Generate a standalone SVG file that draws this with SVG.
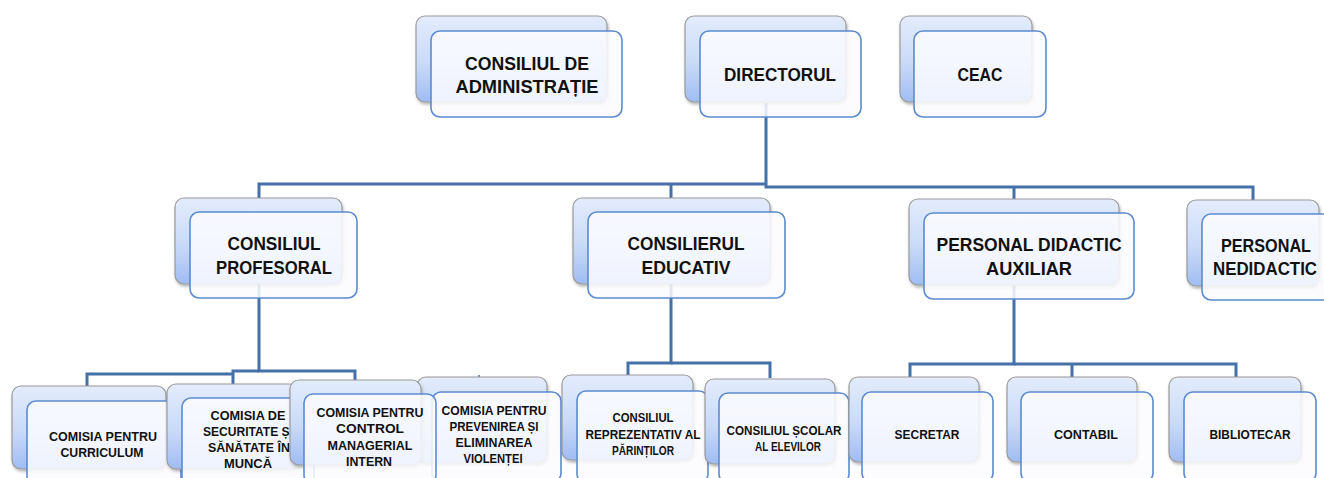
<svg xmlns="http://www.w3.org/2000/svg" width="1324" height="478" viewBox="0 0 1324 478">
<defs>
<linearGradient id="gBack" x1="0" y1="0" x2="0" y2="1">
<stop offset="0" stop-color="#e3ecfc"/>
<stop offset="0.55" stop-color="#c9daf8"/>
<stop offset="1" stop-color="#9fbcf2"/>
</linearGradient>
<filter id="sh" x="-10%" y="-10%" width="130%" height="130%">
<feDropShadow dx="1" dy="2" stdDeviation="1.5" flood-color="#000" flood-opacity="0.3"/>
</filter>
</defs>
<style>
.back{fill:url(#gBack);stroke:#9a9a9a;stroke-width:1.2;filter:url(#sh)}
.front{fill:#fbfcff;fill-opacity:0.86;stroke:#5b8bd0;stroke-width:1.6}
.conn{fill:none;stroke:#4570a8;stroke-width:3;stroke-linejoin:miter}
text{font-family:"Liberation Sans",Arial,sans-serif;font-weight:bold;fill:#111;text-anchor:middle}
.big{font-size:19px}
.sm{font-size:13.5px}
</style>
<rect width="1324" height="478" fill="#ffffff"/>
<g id="connectors">
<path class="conn" d="M766,103 V187 H1253 V200"/>
<path class="conn" d="M766,184 H259 V198"/>
<path class="conn" d="M671,184 V198"/>
<path class="conn" d="M1014,187 V199"/>
<path class="conn" d="M259,284 V371 H355 V380"/>
<path class="conn" d="M259,371 H233 V384"/>
<path class="conn" d="M233,374 H87 V386"/>
<path class="conn" d="M479,375 V378" style="stroke-width:1.5"/>
<path class="conn" d="M671,284 V363 H628 V375"/>
<path class="conn" d="M671,363 H770 V378"/>
<path class="conn" d="M1014,285 V364 H910 V377"/>
<path class="conn" d="M1014,364 H1236 V377"/>
<path class="conn" d="M1072,364 V377"/>
</g>
<g id="n-consiliul-administratie">
<rect class="back" x="416" y="16" width="191" height="86" rx="9"/>
<rect class="front" x="431" y="31" width="191" height="86" rx="9"/>
<text class="big" x="527" y="70" textLength="124" lengthAdjust="spacingAndGlyphs">CONSILIUL DE</text>
<text class="big" x="527" y="93" textLength="143" lengthAdjust="spacingAndGlyphs">ADMINISTRAȚIE</text>
</g>
<g id="n-directorul">
<rect class="back" x="685" y="16" width="161" height="86" rx="9"/>
<rect class="front" x="700" y="31" width="161" height="86" rx="9"/>
<text class="big" x="780" y="81" textLength="112" lengthAdjust="spacingAndGlyphs">DIRECTORUL</text>
</g>
<g id="n-ceac">
<rect class="back" x="900" y="16" width="132" height="86" rx="9"/>
<rect class="front" x="914" y="31" width="132" height="86" rx="9"/>
<text class="big" x="980" y="81" textLength="45" lengthAdjust="spacingAndGlyphs">CEAC</text>
</g>
<g id="n-consiliul-profesoral">
<rect class="back" x="175" y="198" width="167" height="86" rx="9"/>
<rect class="front" x="190" y="212" width="167" height="86" rx="9"/>
<text class="big" x="274" y="250" textLength="93" lengthAdjust="spacingAndGlyphs">CONSILIUL</text>
<text class="big" x="274" y="274" textLength="116" lengthAdjust="spacingAndGlyphs">PROFESORAL</text>
</g>
<g id="n-consilierul-educativ">
<rect class="back" x="573" y="198" width="197" height="86" rx="9"/>
<rect class="front" x="588" y="212" width="197" height="86" rx="9"/>
<text class="big" x="686" y="250" textLength="117" lengthAdjust="spacingAndGlyphs">CONSILIERUL</text>
<text class="big" x="686" y="274" textLength="89" lengthAdjust="spacingAndGlyphs">EDUCATIV</text>
</g>
<g id="n-personal-didactic-auxiliar">
<rect class="back" x="909" y="199" width="210" height="86" rx="9"/>
<rect class="front" x="924" y="213" width="210" height="86" rx="9"/>
<text class="big" x="1029" y="251" textLength="185" lengthAdjust="spacingAndGlyphs">PERSONAL DIDACTIC</text>
<text class="big" x="1029" y="275" textLength="86" lengthAdjust="spacingAndGlyphs">AUXILIAR</text>
</g>
<g id="n-personal-nedidactic">
<rect class="back" x="1187" y="200" width="132" height="86" rx="9"/>
<rect class="front" x="1202" y="214" width="140" height="86" rx="9"/>
<text class="big" x="1266" y="252" textLength="90" lengthAdjust="spacingAndGlyphs">PERSONAL</text>
<text class="big" x="1265" y="275" style="font-size:17.5px" textLength="104" lengthAdjust="spacingAndGlyphs">NEDIDACTIC</text>
</g>
<g id="n-comisia-curriculum">
<rect class="back" x="12" y="386" width="154" height="83" rx="9"/>
<rect class="front" x="27" y="401" width="154" height="90" rx="9"/>
<text class="sm" x="103" y="441" textLength="108" lengthAdjust="spacingAndGlyphs">COMISIA PENTRU</text>
<text class="sm" x="102" y="457" textLength="83" lengthAdjust="spacingAndGlyphs">CURRICULUM</text>
</g>
<g id="n-comisia-securitate">
<rect class="back" x="167" y="384" width="132" height="85" rx="9"/>
<rect class="front" x="182" y="398" width="132" height="90" rx="9"/>
<text class="sm" x="248" y="420" textLength="75" lengthAdjust="spacingAndGlyphs">COMISIA DE</text>
<text class="sm" x="248" y="436" textLength="90" lengthAdjust="spacingAndGlyphs">SECURITATE ȘI</text>
<text class="sm" x="249" y="452" textLength="82" lengthAdjust="spacingAndGlyphs">SĂNĂTATE ÎN</text>
<text class="sm" x="248" y="468" textLength="48" lengthAdjust="spacingAndGlyphs">MUNCĂ</text>
</g>
<g id="n-comisia-violenta">
<rect class="back" x="417" y="377" width="130" height="86" rx="9"/>
<rect class="front" x="432" y="392" width="129" height="90" rx="9"/>
<text class="sm" x="494" y="415" textLength="105" lengthAdjust="spacingAndGlyphs">COMISIA PENTRU</text>
<text class="sm" x="494" y="431" textLength="89" lengthAdjust="spacingAndGlyphs">PREVENIREA ȘI</text>
<text class="sm" x="494" y="447" textLength="77" lengthAdjust="spacingAndGlyphs">ELIMINAREA</text>
<text class="sm" x="493" y="463" textLength="59" lengthAdjust="spacingAndGlyphs">VIOLENȚEI</text>
</g>
<g id="n-comisia-control">
<rect class="back" x="290" y="380" width="131" height="85" rx="9"/>
<rect class="front" x="304" y="394" width="132" height="90" rx="9"/>
<text class="sm" x="370" y="417" textLength="107" lengthAdjust="spacingAndGlyphs">COMISIA PENTRU</text>
<text class="sm" x="370" y="433" textLength="68" lengthAdjust="spacingAndGlyphs">CONTROL</text>
<text class="sm" x="370" y="450" textLength="85" lengthAdjust="spacingAndGlyphs">MANAGERIAL</text>
<text class="sm" x="369" y="466" textLength="46" lengthAdjust="spacingAndGlyphs">INTERN</text>
</g>
<g id="n-consiliul-parintilor">
<rect class="back" x="562" y="375" width="131" height="85" rx="9"/>
<rect class="front" x="577" y="391" width="131" height="92" rx="9"/>
<text class="sm" x="643" y="422" textLength="61" lengthAdjust="spacingAndGlyphs">CONSILIUL</text>
<text class="sm" x="643" y="439" textLength="115" lengthAdjust="spacingAndGlyphs">REPREZENTATIV AL</text>
<text class="sm" x="643" y="455" textLength="62" lengthAdjust="spacingAndGlyphs">PĂRINȚILOR</text>
</g>
<g id="n-consiliul-elevilor">
<rect class="back" x="705" y="379" width="130" height="85" rx="9"/>
<rect class="front" x="719" y="393" width="130" height="90" rx="9"/>
<text class="sm" x="784" y="435" textLength="115" lengthAdjust="spacingAndGlyphs">CONSILIUL ȘCOLAR</text>
<text class="sm" x="788" y="451" textLength="66" lengthAdjust="spacingAndGlyphs">AL ELEVILOR</text>
</g>
<g id="n-secretar">
<rect class="back" x="849" y="377" width="130" height="85" rx="9"/>
<rect class="front" x="862" y="392" width="131" height="90" rx="9"/>
<text class="sm" x="927" y="439" textLength="65" lengthAdjust="spacingAndGlyphs">SECRETAR</text>
</g>
<g id="n-contabil">
<rect class="back" x="1007" y="377" width="130" height="85" rx="9"/>
<rect class="front" x="1021" y="392" width="132" height="90" rx="9"/>
<text class="sm" x="1086" y="439" textLength="64" lengthAdjust="spacingAndGlyphs">CONTABIL</text>
</g>
<g id="n-bibliotecar">
<rect class="back" x="1169" y="377" width="132" height="85" rx="9"/>
<rect class="front" x="1184" y="392" width="132" height="90" rx="9"/>
<text class="sm" x="1250" y="439" textLength="81" lengthAdjust="spacingAndGlyphs">BIBLIOTECAR</text>
</g>
</svg>
